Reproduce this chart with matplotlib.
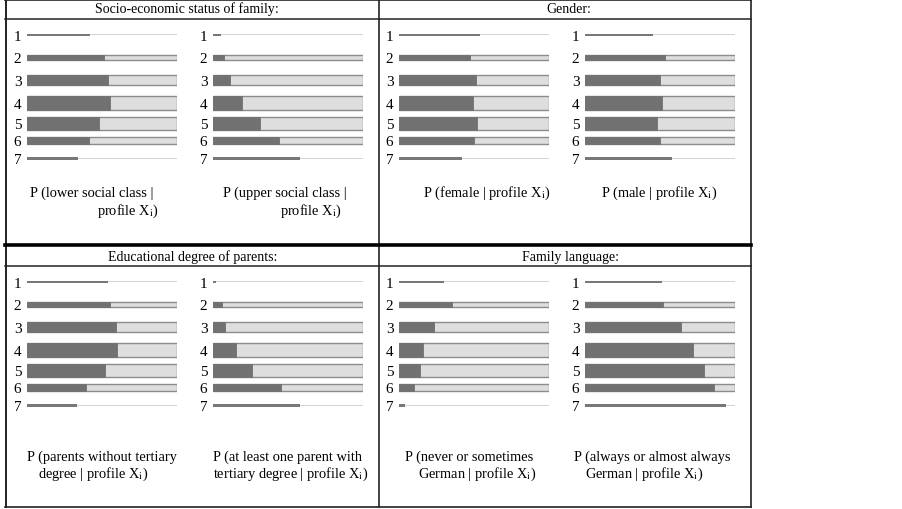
import matplotlib
matplotlib.use("Agg")
import matplotlib.pyplot as plt
from matplotlib.lines import Line2D

plt.rcParams['font.family'] = ['Liberation Serif', 'DejaVu Serif']
plt.rcParams['mathtext.fontset'] = 'stix'

# ---------------- data ----------------
profiles = ['1', '2', '3', '4', '5', '6', '7']
profile_weight = [2, 5, 10, 14, 13, 7, 2]   # bar thickness ~ profile size

panel_titles = ['Socio-economic status of family:', 'Gender:',
                'Educational degree of parents:', 'Family language:']

ses_lower = [0.42, 0.51, 0.54, 0.55, 0.48, 0.41, 0.34]
ses_upper = [0.05, 0.07, 0.11, 0.19, 0.31, 0.44, 0.58]
gender_female = [0.54, 0.47, 0.51, 0.49, 0.52, 0.50, 0.42]
gender_male = [0.45, 0.53, 0.50, 0.51, 0.48, 0.50, 0.58]
edu_no_tertiary = [0.54, 0.55, 0.59, 0.60, 0.52, 0.39, 0.33]
edu_tertiary = [0.02, 0.06, 0.08, 0.15, 0.26, 0.45, 0.58]
lang_never = [0.30, 0.35, 0.23, 0.16, 0.14, 0.10, 0.04]
lang_always = [0.51, 0.52, 0.64, 0.72, 0.79, 0.86, 0.94]

XI = r'X$_{\mathrm{i}}$)'
captions = {
    'ses_lower': ['P (lower social class |', 'profile ' + XI],
    'ses_upper': ['P (upper social class |', 'profile ' + XI],
    'gender_female': ['P (female | profile ' + XI],
    'gender_male': ['P (male | profile ' + XI],
    'edu_no': ['P (parents without tertiary', 'degree | profile ' + XI],
    'edu_yes': ['P (at least one parent with', 'tertiary degree | profile ' + XI],
    'lang_never': ['P (never or sometimes', 'German | profile ' + XI],
    'lang_always': ['P (always or almost always', 'German | profile ' + XI],
}

# ---------------- layout ----------------
W, H = 902, 510
fig = plt.figure(figsize=(W / 100, H / 100), dpi=100)
fig.patch.set_facecolor('white')

def fx(x):
    return x / W

def fy(y):
    return 1 - y / H

row_y = [15.7, 38.5, 61, 84, 104, 121.5, 139.5]
AX_H = 150
DARK = '#717171'
LIGHT = '#dedede'
EDGE = '#8c8c8c'

def bar_panel(left, top, values):
    ax = fig.add_axes([fx(left), fy(top + AX_H), 150 / W, AX_H / H])
    ax.set_xlim(0, 1)
    ax.set_ylim(AX_H, 0)
    for y, w, v in zip(row_y, profile_weight, values):
        if w <= 2:
            ax.barh(y, 1, height=w * 0.75, color='#d4d4d4', edgecolor='none')
            ax.barh(y, v, height=w * 1.1, color='#787878', edgecolor='none')
        else:
            ax.barh(y, 1, height=w, color=LIGHT, edgecolor=EDGE, linewidth=1.0)
            ax.barh(y, v, height=w, color=DARK, edgecolor=DARK, linewidth=0.6)
    ax.set_yticks(row_y)
    ax.set_yticklabels(profiles, fontsize=11)
    ax.tick_params(axis='y', length=0, pad=4)
    ax.set_xticks([])
    for s in ax.spines.values():
        s.set_visible(False)
    ax.patch.set_alpha(0)
    return ax

top_line_a = 20
top_line_b = 267
bar_panel(27, top_line_a, ses_lower)
bar_panel(213, top_line_a, ses_upper)
bar_panel(399, top_line_a, gender_female)
bar_panel(585, top_line_a, gender_male)
bar_panel(27, top_line_b, edu_no_tertiary)
bar_panel(213, top_line_b, edu_tertiary)
bar_panel(399, top_line_b, lang_never)
bar_panel(585, top_line_b, lang_always)

# ---------------- frame lines ----------------
def hline(y, x0, x1, lw, color='#222222'):
    fig.add_artist(Line2D([fx(x0), fx(x1)], [fy(y), fy(y)], lw=lw, color=color))

def vline(x, y0, y1, lw, color='#222222'):
    fig.add_artist(Line2D([fx(x), fx(x)], [fy(y0), fy(y1)], lw=lw, color=color))

hline(0.7, 5, 751, 1.2)
hline(508, 5, 751, 1.2)
vline(5.5, 0, 508, 1.4)
vline(750.5, 0, 508, 1.2)
vline(379, 0, 508, 1.2)
hline(20, 5, 751, 1.1)
hline(267, 5, 751, 1.1)
hline(246, 5, 751, 2.6, color='#000000')

# ---------------- titles ----------------
TFS = 10
fig.text(fx(187), fy(9.5), panel_titles[0], ha='center', va='center', fontsize=TFS)
fig.text(fx(569), fy(9.5), panel_titles[1], ha='center', va='center', fontsize=TFS)
fig.text(fx(193), fy(257), panel_titles[2], ha='center', va='center', fontsize=TFS)
fig.text(fx(570), fy(257), panel_titles[3], ha='center', va='center', fontsize=TFS)

# ---------------- captions ----------------
CFS = 10.4
def caption(lines, positions):
    for text, (x, y) in zip(lines, positions):
        fig.text(fx(x), fy(y), text, ha='left', va='center', fontsize=CFS)

caption(captions['ses_lower'], [(30, 193), (97, 211)])
caption(captions['ses_upper'], [(223, 193), (280, 211)])
caption(captions['gender_female'], [(423, 193)])
caption(captions['gender_male'], [(601, 193)])
caption(captions['edu_no'], [(27, 457), (38, 474)])
caption(captions['edu_yes'], [(213, 457), (213, 474)])
caption(captions['lang_never'], [(405, 457), (418, 474)])
caption(captions['lang_always'], [(574, 457), (585, 474)])

fig.savefig('out.png', dpi=100, facecolor='white')
